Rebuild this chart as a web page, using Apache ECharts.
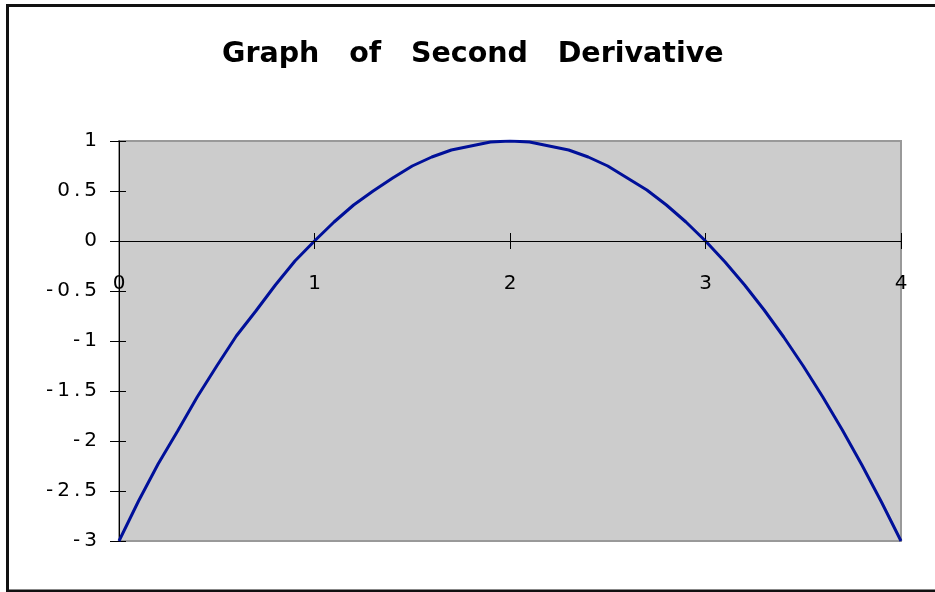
<!DOCTYPE html>
<html>
<head>
<meta charset="utf-8">
<script src="https://cdn.jsdelivr.net/npm/echarts@6/dist/echarts.min.js"></script>
<style>
html,body{margin:0;padding:0;background:#fff;}
#chart{width:935px;height:592px;}
</style>
</head>
<body>
<div id="chart"></div>
<script>
var titleText = "Graph   of   Second   Derivative";
var xValues = [0, 0.1, 0.2, 0.3, 0.4, 0.5, 0.6, 0.7, 0.8, 0.9, 1.0, 1.1, 1.2, 1.3, 1.4, 1.5, 1.6, 1.7, 1.8, 1.9, 2.0,
               2.1, 2.2, 2.3, 2.4, 2.5, 2.6, 2.7, 2.8, 2.9, 3.0, 3.1, 3.2, 3.3, 3.4, 3.5, 3.6, 3.7, 3.8, 3.9, 4.0];
var yValues = [-3, -2.6, -2.23, -1.9, -1.56, -1.25, -0.95, -0.7, -0.44, -0.2, 0, 0.19, 0.36, 0.5, 0.63, 0.75, 0.84, 0.91, 0.95, 0.99, 1,
               0.99, 0.95, 0.91, 0.84, 0.75, 0.63, 0.51, 0.36, 0.19, 0, -0.21, -0.44, -0.69, -0.96, -1.25, -1.56, -1.89, -2.24, -2.61, -3];
var xTickLabels = ["0", "1", "2", "3", "4"];
var yTickLabels = ["-3", "-2.5", "-2", "-1.5", "-1", "-0.5", "0", "0.5", "1"];

var seriesData = xValues.map(function (x, i) { return [x, yValues[i]]; });
function spaced(s) { return s.split('').join('\u2009'); }

var chart = echarts.init(document.getElementById('chart'), null, {renderer: 'canvas'});
var labelFont = {fontFamily: 'DejaVu Sans', fontSize: 20, color: '#000'};
chart.setOption({
  animation: false,
  backgroundColor: '#fff',
  title: {
    text: titleText,
    left: 217,
    top: 35,
    textStyle: {fontFamily: 'DejaVu Sans', fontWeight: 'bold', fontSize: 28.5, color: '#000'}
  },
  graphic: [{
    type: 'rect',
    shape: {x: 7.5, y: 5.5, width: 940, height: 585.5},
    style: {fill: 'none', stroke: '#111', lineWidth: 3},
    silent: true, z: 100
  }],
  grid: {
    left: 119, top: 141, right: 34, bottom: 51,
    show: true, backgroundColor: '#CCCCCC', borderColor: '#999999', borderWidth: 2
  },
  xAxis: [{
    type: 'value', min: 0, max: 4, interval: 1,
    axisLine: {onZero: true, lineStyle: {color: '#000', width: 1}},
    axisTick: {show: true, inside: false, length: 8, lineStyle: {color: '#000'}},
    axisLabel: Object.assign({margin: -267, showMinLabel: true, showMaxLabel: true, hideOverlap: false,
      formatter: function (v) { return xTickLabels[Math.round(v)]; }}, labelFont),
    splitLine: {show: false},
    z: 6
  }, {
    type: 'value', min: 0, max: 4, interval: 1, position: 'bottom',
    axisLine: {onZero: true, lineStyle: {color: '#000', width: 1}},
    axisTick: {show: true, inside: true, length: 8, lineStyle: {color: '#000'}},
    axisLabel: {show: false},
    splitLine: {show: false}
  }],
  yAxis: [{
    type: 'value', min: -3, max: 1, interval: 0.5,
    axisLine: {show: true, onZero: false, lineStyle: {color: '#000', width: 1}},
    axisTick: {show: true, inside: false, length: 9, lineStyle: {color: '#000'}},
    axisLabel: Object.assign({margin: 22,
      formatter: function (v) { return spaced(yTickLabels[Math.round((v + 3) * 2)]); }}, labelFont),
    splitLine: {show: false}
  }, {
    type: 'value', min: -3, max: 1, interval: 0.5, position: 'left',
    axisLine: {show: false, onZero: false},
    axisTick: {show: true, inside: true, length: 7, lineStyle: {color: '#000'}},
    axisLabel: {show: false},
    splitLine: {show: false}
  }],
  series: [{
    type: 'line',
    xAxisIndex: 0, yAxisIndex: 0,
    data: seriesData,
    showSymbol: false,
    smooth: false,
    lineStyle: {color: '#001099', width: 3},
    z: 5
  }]
});
</script>
</body>
</html>
